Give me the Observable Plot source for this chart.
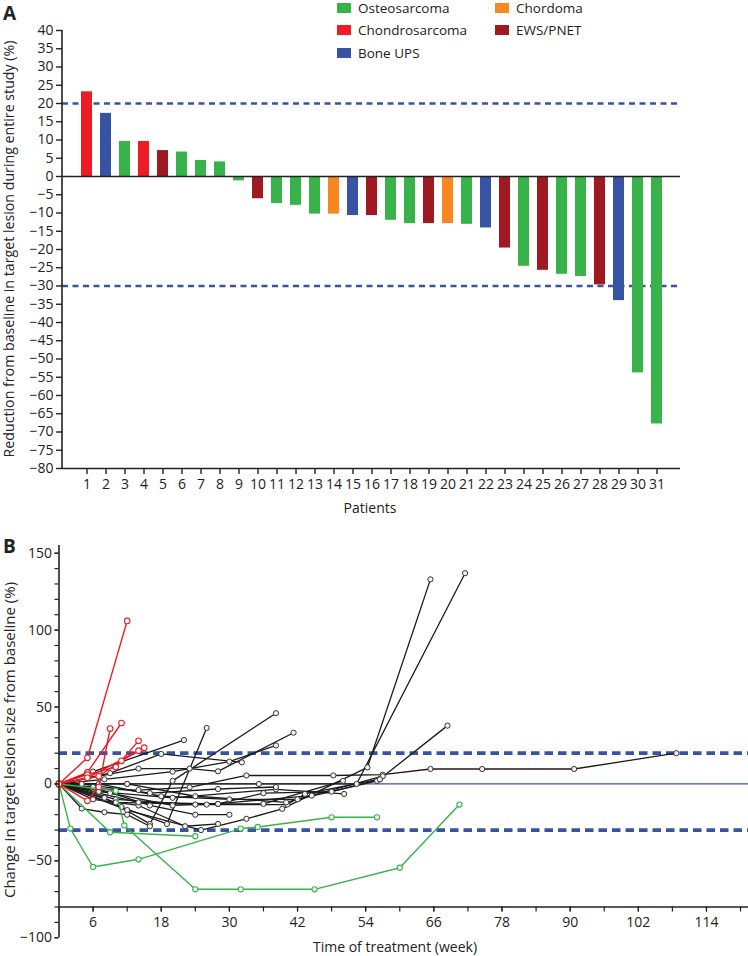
<!DOCTYPE html>
<html><head><meta charset="utf-8">
<script src="https://cdn.jsdelivr.net/npm/d3@7"></script>
<script src="https://cdn.jsdelivr.net/npm/@observablehq/plot@0.6"></script>
<style>
body{margin:0;background:#fff;font-family:"Open Sans",sans-serif;color:#222}
#wrap{position:relative;width:748px;height:956px;overflow:hidden;background:#fff}
.abs{position:absolute;white-space:nowrap;line-height:1}
.rot{transform:translate(-50%,-50%) rotate(-90deg)}
.ctr{transform:translate(-50%,-50%)}
.sw{position:absolute;width:14px;height:10px}
.lg{position:absolute;font-size:13.5px;white-space:nowrap;line-height:1.2;transform:translateY(-50%)}
svg{position:absolute;left:0;overflow:visible}
</style></head><body><div id="wrap"></div><script>
// ---------- Panel A data ----------
const patients = [1,2,3,4,5,6,7,8,9,10,11,12,13,14,15,16,17,18,19,20,21,22,23,24,25,26,27,28,29,30,31];
const reductions = [23.2,17.3,9.6,9.6,7.1,6.7,4.4,4.0,-1.2,-6.1,-7.4,-7.9,-10.3,-10.3,-10.7,-10.7,-12.0,-12.9,-12.9,-12.9,-13.1,-14.1,-19.6,-24.6,-25.7,-26.8,-27.4,-29.7,-34.0,-53.8,-67.8];
const histology = ["Chondrosarcoma","Bone UPS","Osteosarcoma","Chondrosarcoma","EWS/PNET","Osteosarcoma","Osteosarcoma","Osteosarcoma","Osteosarcoma","EWS/PNET","Osteosarcoma","Osteosarcoma","Osteosarcoma","Chordoma","Bone UPS","EWS/PNET","Osteosarcoma","Osteosarcoma","EWS/PNET","Chordoma","Osteosarcoma","Bone UPS","EWS/PNET","Osteosarcoma","EWS/PNET","Osteosarcoma","Osteosarcoma","EWS/PNET","Bone UPS","Osteosarcoma","Osteosarcoma"];
const histTypes = ["Osteosarcoma","Chondrosarcoma","Bone UPS","Chordoma","EWS/PNET"];
const histColors = ["#37b34a","#ed1c24","#3953a4","#f7881f","#9e1a20"];
const aYTicks = [-80,-75,-70,-65,-60,-55,-50,-45,-40,-35,-30,-25,-20,-15,-10,-5,0,5,10,15,20,25,30,35,40];
const aThresholds = [20,-30];

// ---------- Panel B data (week, % change) ----------
const redLines = [
  [[0,0],[5,17],[12,106]],
  [[0,0],[5,-11],[7,-2],[9,36]],
  [[0,0],[5,7.5],[11,39.6]],
  [[0,0],[5,6],[10,11],[14,28]],
  [[0,0],[7,5],[11,15],[15,23.6]],
  [[0,0],[5,4],[14,21.6]]
];
const greenLines = [
  [[0,0],[2,-29],[6,-54],[14,-49],[32,-29],[35,-28],[48,-21.7],[56,-21.7]],
  [[0,0],[9,-31.4],[24,-34]],
  [[0,0],[10,-4.5],[11.5,-27],[24,-68.5],[32,-68.5],[45,-68.5],[60,-54.5],[70.5,-13.4]]
];
const blackLines = [
  [[0,0],[6,8],[22,28.5]],
  [[0,0],[9,7],[18,19.5],[32.2,14]],
  [[0,0],[8,3],[20,8],[30,14.5],[38.2,25]],
  [[0,0],[14,10],[23,10],[28,8.2],[41.3,33.3]],
  [[0,0],[6,-3],[14,-4],[23,-2.2],[33,5.5],[48.3,5.5],[57,6],[65.4,9.7],[74.5,9.7],[90.7,9.7],[108.7,20]],
  [[0,0],[8,-9],[16,-26],[20,2],[38.2,46]],
  [[0,0],[11,-15],[19,-26],[26,36.4]],
  [[0,0],[12,-17],[25,-30],[33,-22.7],[39.3,-16.2],[54.3,10.8],[65.4,133]],
  [[0,0],[12,0],[35.2,0],[52.4,0],[71.5,137]],
  [[0,0],[10,-10],[24,-13.4],[40.2,-13.4],[43.3,-6.5],[56.5,3.2],[68.4,37.9]],
  [[0,0],[7,-5],[20,-9],[38.2,-3.5],[50.2,-6.5]],
  [[0,0],[4,-16],[8,-18.4],[12,-20],[16,-27.5]],
  [[0,0],[6,-10],[14,-14],[22.2,-27.5],[28,-26]],
  [[0,0],[10,-12],[26,-13.4],[44.5,-7.6]],
  [[0,0],[14,-12],[28,-13],[36,-13],[50,2]],
  [[0,0],[4,0],[16,-6],[28,-3.3],[38.2,-2]],
  [[0,0],[7,0],[18,-8],[30,-10],[42,-10],[56,2]],
  [[0,0],[12,0],[24,-8],[40,-12],[57,5]],
  [[0,0],[9,-6],[20,-14],[28,-13],[36,-6],[48,-5],[56.5,3]],
  [[0,0],[6,-2],[16,-14],[24,-20],[30,-20]]
];
const bThresholds = [20,-30];
const bYMinor = [-100,-90,-80,-70,-60,-50,-40,-30,-20,-10,0,10,20,30,40,50,60,70,80,90,100,110,120,130,140,150];
const bYLabels = [-100,-50,0,50,100,150];
const bXMinor = [0,6,12,18,24,30,36,42,48,54,60,66,72,78,84,90,96,102,108,114,120];
const bXLabels = [6,18,30,42,54,66,78,90,102,114];

const wrap = document.getElementById("wrap");
const W = 748;

// ---------- Panel A ----------
const dataA = patients.map((p,i)=>({patient:p, value:reductions[i], type:histology[i]}));
const A = {H:500, mt:30, mb:32, ml:62, mr:68};
const chartA = Plot.plot({
  width:W, height:A.H, marginTop:A.mt, marginBottom:A.mb, marginLeft:A.ml, marginRight:A.mr,
  style:{fontFamily:"Open Sans", fontSize:"14px", color:"#222", background:"transparent"},
  x:{type:"band", domain:patients, paddingInner:0.44, paddingOuter:0.54},
  y:{domain:[-80,40]},
  color:{domain:histTypes, range:histColors},
  marks:[
    Plot.ruleY(aThresholds,{stroke:"#3953a4", strokeWidth:2.6, strokeDasharray:"6,4.5"}),
    Plot.barY(dataA,{x:"patient", y:"value", fill:"type"}),
    Plot.ruleY([0],{stroke:"#222", strokeWidth:1.6}),
    Plot.ruleY([-80],{stroke:"#222", strokeWidth:1.6}),
    Plot.axisY({ticks:aYTicks, tickSize:6, tickPadding:3, label:null, strokeWidth:1.4}),
    Plot.axisX({tickSize:6, tickPadding:5, label:null, strokeWidth:1.4})
  ]
});
chartA.style.top = "0px";
d3.select(chartA).append("line")
  .attr("x1",A.ml).attr("x2",A.ml).attr("y1",A.mt).attr("y2",A.H-A.mb)
  .attr("stroke","#222").attr("stroke-width",1.6);
wrap.appendChild(chartA);

// ---------- Panel B ----------
function rows(groups, g){
  const out=[];
  groups.forEach((pts,i)=>pts.forEach(([w,v])=>out.push({id:g+i, week:w, value:v})));
  return out;
}
const redRows = rows(redLines,"r"), greenRows = rows(greenLines,"g"), blackRows = rows(blackLines,"k");
const B = {top:530, H:426, mt:15, mb:49.5, ml:58.5, mr:0};
const chartB = Plot.plot({
  width:W, height:B.H, marginTop:B.mt, marginBottom:B.mb, marginLeft:B.ml, marginRight:B.mr,
  style:{fontFamily:"Open Sans", fontSize:"14px", color:"#222", background:"transparent"},
  x:{domain:[0,121.4]},
  y:{domain:[-80,155]},
  marks:[
    Plot.ruleY([0],{stroke:"#3953a4", strokeWidth:1.2}),
    Plot.ruleY(bThresholds,{stroke:"#3953a4", strokeWidth:3.6, strokeDasharray:"8.5,5"}),
    Plot.line(blackRows,{x:"week", y:"value", z:"id", stroke:"#1a1a1a", strokeWidth:1.3}),
    Plot.dot(blackRows,{x:"week", y:"value", r:2.6, fill:"#f2f2f2", stroke:"#333", strokeWidth:1}),
    Plot.line(greenRows,{x:"week", y:"value", z:"id", stroke:"#37b34a", strokeWidth:1.4}),
    Plot.dot(greenRows,{x:"week", y:"value", r:2.6, fill:"#fff", stroke:"#37b34a", strokeWidth:1.1}),
    Plot.line(redRows,{x:"week", y:"value", z:"id", stroke:"#ed1c24", strokeWidth:1.4}),
    Plot.dot(redRows,{x:"week", y:"value", r:2.8, fill:"#fff", stroke:"#ed1c24", strokeWidth:1.1}),
    Plot.ruleY([-80],{stroke:"#222", strokeWidth:1.6}),
    Plot.ruleX([0],{y1:bYMinor[0], y2:155, stroke:"#222", strokeWidth:1.6}),
    Plot.axisY({ticks:bYMinor, tickSize:4, tickFormat:()=>"" , label:null, strokeWidth:1.2}),
    Plot.axisY({ticks:bYLabels, tickSize:4, tickPadding:3, label:null, strokeWidth:1.2}),
    Plot.axisX({ticks:bXMinor, tickSize:5, tickFormat:()=>"", label:null, strokeWidth:1.2}),
    Plot.axisX({ticks:bXLabels, tickSize:5, tickPadding:5, label:null, strokeWidth:1.2})
  ]
});
chartB.style.top = B.top+"px";
wrap.appendChild(chartB);

// ---------- Text / legend ----------
function addText(txt, cls, left, top, size, extra){
  const d=document.createElement("div");
  d.className="abs "+cls; d.textContent=txt;
  d.style.left=left+"px"; d.style.top=top+"px"; d.style.fontSize=size+"px";
  if(extra) Object.assign(d.style, extra);
  wrap.appendChild(d);
}
addText("A","",3,4,19,{fontWeight:"700"});
addText("B","",3,537,19,{fontWeight:"700"});
addText("Reduction from baseline in target lesion during entire study (%)","rot",9,249,14.2);
addText("Patients","ctr",370,508,14);
addText("Change in target lesion size from baseline (%)","rot",9,740,15);
addText("Time of treatment (week)","ctr",395,947,14);

const legendPos = [[337,8],[337,30],[337,53],[495,8],[495,30]];
histTypes.forEach((t,i)=>{
  const [lx,ly]=legendPos[i];
  const s=document.createElement("div"); s.className="sw";
  s.style.left=lx+"px"; s.style.top=(ly-5)+"px"; s.style.background=histColors[i];
  wrap.appendChild(s);
  const l=document.createElement("div"); l.className="lg"; l.textContent=t;
  l.style.left=(lx+21)+"px"; l.style.top=ly+"px";
  wrap.appendChild(l);
});
</script></body></html>
